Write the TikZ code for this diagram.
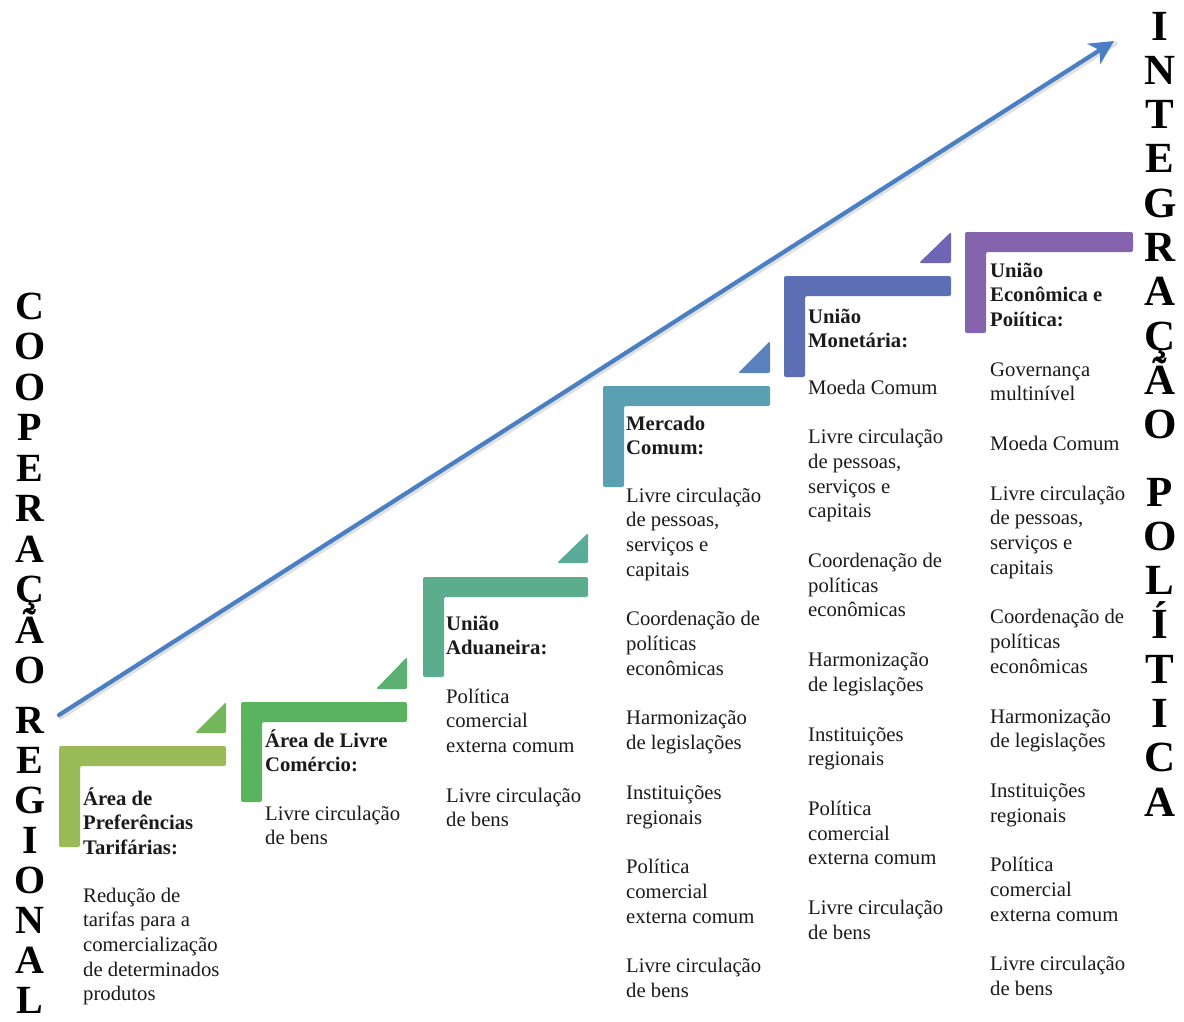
\documentclass[tikz,border=0pt]{standalone}
\usepackage{fontspec}
\setmainfont{Liberation Serif}
\usetikzlibrary{arrows.meta}

% stair colours (bars and the small corner triangles)
\definecolor{barA}{HTML}{9BBB59}
\definecolor{triA}{HTML}{74B65A}
\definecolor{barB}{HTML}{5AB45F}
\definecolor{triB}{HTML}{5CB072}
\definecolor{barC}{HTML}{5CAC8E}
\definecolor{triC}{HTML}{5AAC98}
\definecolor{barD}{HTML}{5A9FB2}
\definecolor{triD}{HTML}{5A82BE}
\definecolor{barE}{HTML}{5C6EB4}
\definecolor{triE}{HTML}{7064B4}
\definecolor{barF}{HTML}{8464AC}
\definecolor{arrowblue}{HTML}{4A7FC4}
\definecolor{txt}{HTML}{1A1A1A}

% L-shaped step: left x, top y, right x, bottom y of the upright
\newcommand\stepshape[5]{%
  \fill[#5, rounded corners=2pt] (#1,#2) -- (#3,#2) -- (#3,#2+20) -- (#1+21,#2+20)
    -- (#1+21,#4) -- (#1,#4) -- cycle;}
% small right triangle: left x, top y, right x, bottom y
\newcommand\steptri[5]{%
  \fill[#5, rounded corners=1.5pt] (#3,#2) -- (#3,#4) -- (#1,#4) -- cycle;}

% text blocks are placed by the baseline of their last line
\tikzset{
  headtext/.style={anchor=base west, align=left, inner sep=0pt, text=txt,
    font=\fontsize{20.7}{24.7}\selectfont\bfseries},
  bodytext/.style={anchor=base west, align=left, inner sep=0pt, text=txt,
    font=\fontsize{20.7}{24.7}\selectfont},
  leftletter/.style={anchor=base, inner sep=0pt, text=black,
    font=\fontsize{40}{40}\selectfont\bfseries},
  rightletter/.style={anchor=base, inner sep=0pt, text=black,
    font=\fontsize{43}{43}\selectfont\bfseries},
}

\begin{document}
\begin{tikzpicture}[x=1pt, y=-1pt]
\useasboundingbox (0,0) rectangle (1184,1021);

% rising arrow
\coordinate (arrS) at (59,715);
\coordinate (arrE) at (1114,41);
\draw[black!12, line width=4.5pt, line cap=round, transform canvas={shift={(1.5pt,-2.5pt)}}]
  (arrS) -- (arrE);
\draw[arrowblue, line width=4.2pt, line cap=round,
  -{Stealth[length=24pt, width=24pt, inset=7pt]}] (arrS) -- (arrE);

% stairs
\stepshape{59}{746}{226}{847}{barA}
\steptri{195}{702}{226}{733}{triA}
\stepshape{241}{702}{407}{802}{barB}
\steptri{376}{657}{407}{689}{triB}
\stepshape{423}{577}{588}{677}{barC}
\steptri{557}{533}{588}{563}{triC}
\stepshape{603}{386}{770}{487}{barD}
\steptri{738}{341}{770}{373}{triD}
\stepshape{784}{276}{951}{377}{barE}
\steptri{919}{232}{951}{263}{triE}
\stepshape{965}{232}{1133}{333}{barF}

% step 1
\node[headtext] (t1) at (83,854.4) {Área de\\Preferências\\Tarifárias:};
\node[bodytext] (b1) at (83,1000.8) {Redução de\\tarifas para a\\comercialização\\de determinados\\produtos};

% step 2
\node[headtext] (t2) at (265,771.7) {Área de Livre\\Comércio:};
\node[bodytext] (b2) at (265,844.7) {Livre circulação\\de bens};

% step 3
\node[headtext] (t3) at (446,654.7) {União\\Aduaneira:};
\node[bodytext] (b3) at (446,826.8) {Política\\comercial\\externa comum\\[25pt]Livre circulação\\de bens};

% step 4
\node[headtext] (t4) at (626,454.7) {Mercado\\Comum:};
\node[bodytext] (b4) at (626,997.5) {Livre circulação\\de pessoas,\\serviços e\\capitais\\[25pt]%
Coordenação de\\políticas\\econômicas\\[25pt]Harmonização\\de legislações\\[25pt]%
Instituições\\regionais\\[25pt]Política\\comercial\\externa comum\\[25pt]Livre circulação\\de bens};

% step 5
\node[headtext] (t5) at (808,347.7) {União\\Monetária:};
\node[bodytext] (b5) at (808,939.2) {Moeda Comum\\[25pt]Livre circulação\\de pessoas,\\serviços e\\capitais\\[25pt]%
Coordenação de\\políticas\\econômicas\\[25pt]Harmonização\\de legislações\\[25pt]%
Instituições\\regionais\\[25pt]Política\\comercial\\externa comum\\[25pt]Livre circulação\\de bens};

% step 6
\node[headtext] (t6) at (990,326.4) {União\\Econômica e\\Poiítica:};
\node[bodytext] (b6) at (990,995.6) {Governança\\multinível\\[25pt]Moeda Comum\\[25pt]Livre circulação\\de pessoas,\\serviços e\\capitais\\[25pt]%
Coordenação de\\políticas\\econômicas\\[25pt]Harmonização\\de legislações\\[25pt]%
Instituições\\regionais\\[25pt]Política\\comercial\\externa comum\\[25pt]Livre circulação\\de bens};

% vertical caption on the left
\foreach \ch [count=\i] in {C,O,O,P,E,R,A,Ç,Ã,O}
  \node[leftletter] (la\i) at (30,319+40.5*\i-40.5) {\ch};
\foreach \ch [count=\i] in {R,E,G,I,O,N,A,L}
  \node[leftletter] (lb\i) at (30,733+40*\i-40) {\ch};

% vertical caption on the right
\foreach \ch [count=\i] in {I,N,T,E,G,R,A,Ç,Ã,O}
  \node[rightletter] (ra\i) at (1160,40+44.3*\i-44.3) {\ch};
\foreach \ch [count=\i] in {P,O,L,Í,T,I,C,A}
  \node[rightletter] (rb\i) at (1160,506+44.3*\i-44.3) {\ch};

\end{tikzpicture}
\end{document}
